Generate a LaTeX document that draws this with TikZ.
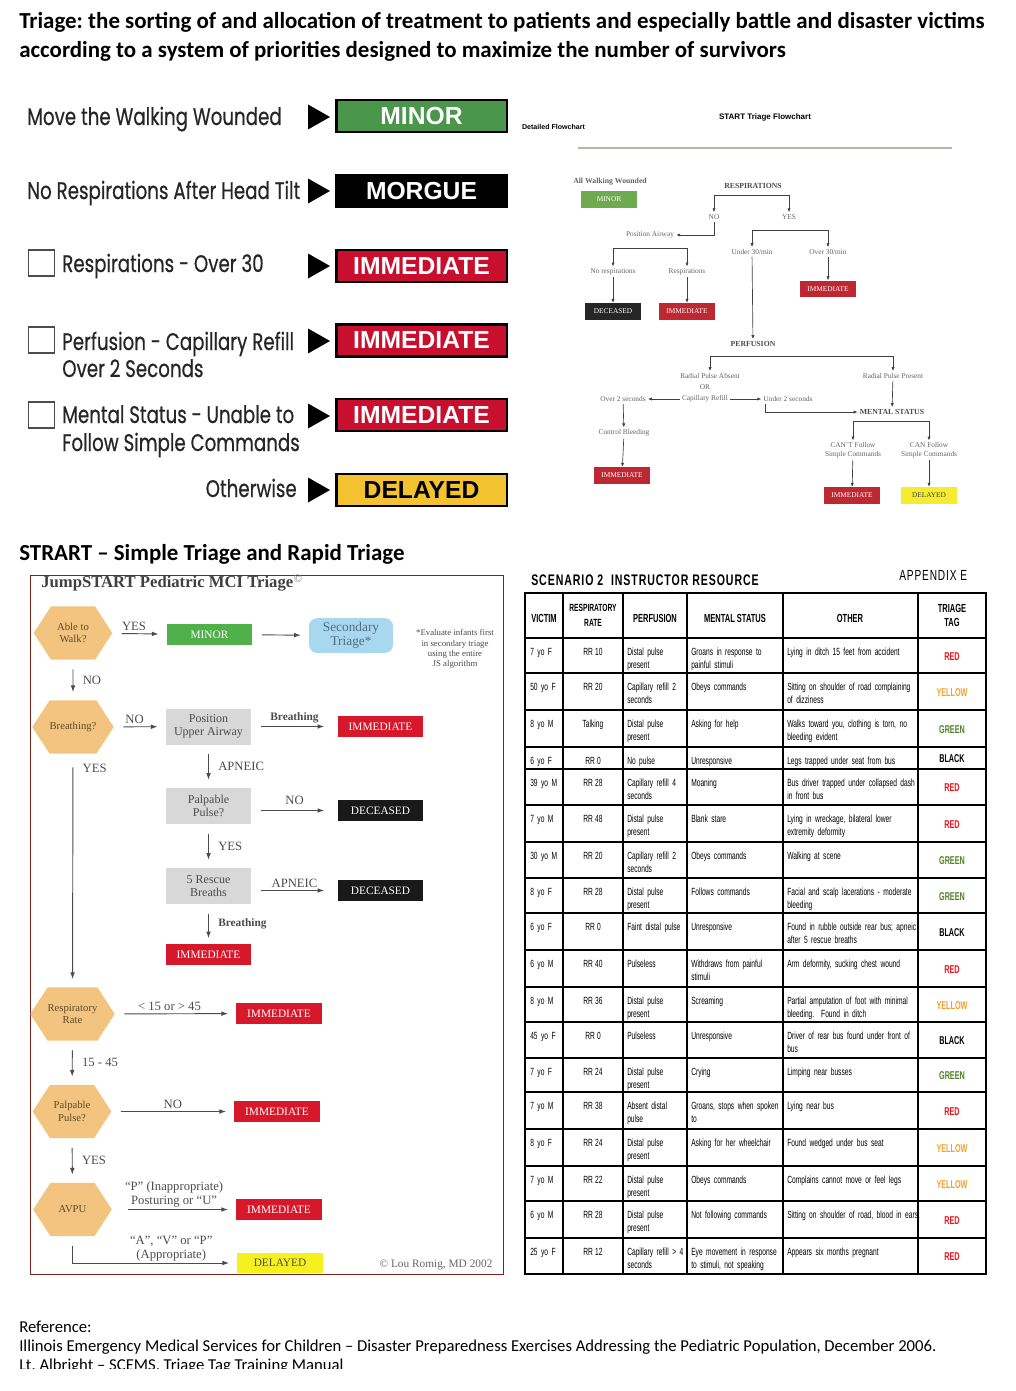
\documentclass[tikz,border=0pt]{standalone}
\usepackage{fontspec}
\setmainfont{Liberation Serif}
\newfontfamily\calfont{Carlito}
\newfontfamily\gothfont[FakeStretch=0.76,FakeBold=0.5]{Poppins}
\newfontfamily\tagfont{Liberation Sans}
\newfontfamily\narrowfont[FakeStretch=0.64]{Liberation Sans}
\newfontfamily\scenfont[FakeStretch=0.69,LetterSpace=6]{Liberation Sans}
\newcommand\tightsp{\spaceskip 1.6pt plus 0.5pt\relax}
\usetikzlibrary{shapes.symbols,arrows.meta,positioning}

\definecolor{startgreen}{RGB}{74,150,74}
\definecolor{startred}{RGB}{200,16,46}
\definecolor{startyellow}{RGB}{242,194,48}
\definecolor{fcred}{RGB}{190,40,50}
\definecolor{fcgreen}{RGB}{110,170,80}
\definecolor{fcyellow}{RGB}{245,236,50}
\definecolor{fcgrey}{RGB}{100,100,100}
\definecolor{rulegrey}{RGB}{185,180,170}
\definecolor{hexfill}{RGB}{242,196,128}
\definecolor{hextext}{RGB}{95,75,45}
\definecolor{boxgrey}{RGB}{216,216,216}
\definecolor{secblue}{RGB}{168,216,240}
\definecolor{sectext}{RGB}{80,110,130}
\definecolor{jsred}{RGB}{214,24,42}
\definecolor{jsgreen}{RGB}{80,176,74}
\definecolor{jsyellow}{RGB}{245,240,30}
\definecolor{jsframe}{RGB}{120,35,35}
\definecolor{tRED}{RGB}{232,20,28}
\definecolor{tYELLOW}{RGB}{240,160,40}
\definecolor{tGREEN}{RGB}{80,130,40}
\definecolor{tBLACK}{RGB}{0,0,0}

\tikzset{
  heading/.style={font=\calfont\bfseries\fontsize{17.2}{20}\selectfont, inner sep=0pt, anchor=base west},
  reftext/.style={font=\calfont\fontsize{12.5}{15}\selectfont, inner sep=0pt, anchor=base west},
  gothic/.style={font=\gothfont\fontsize{18}{21}\selectfont, text=black!85, inner sep=0pt, anchor=base west},
  tag/.style={draw=black, line width=2pt, minimum width=128pt, minimum height=24pt, inner sep=0pt,
    font=\tagfont\bfseries\fontsize{18.5}{20}\selectfont, text=white},
  chkbox/.style={draw=black!70, line width=0.9pt, minimum size=19.5pt, inner sep=0pt},
  fctext/.style={font=\fontsize{5.5}{6.5}\selectfont, text=fcgrey, inner sep=1.5pt, align=center},
  fchead/.style={fctext, font=\bfseries\fontsize{5.8}{6.5}\selectfont, text=black!70},
  fcbox/.style={minimum width=42pt, minimum height=12.5pt, inner sep=0pt, font=\fontsize{5.5}{6}\selectfont, text=white},
  farr/.style={-{Latex[length=3pt,width=2.4pt]}, black!75, line width=0.5pt},
  hexnode/.style={signal, signal to=east and west, signal pointer angle=114, fill=hexfill,
    minimum width=59pt, minimum height=40pt, inner sep=0pt, align=center, text=hextext,
    font=\fontsize{8}{9.5}\selectfont},
  jsbox/.style={minimum width=64pt, minimum height=16pt, inner sep=0pt, font=\fontsize{8.5}{9}\selectfont, text=white},
  greybox/.style={fill=boxgrey, minimum width=64pt, minimum height=27pt, inner sep=0pt, align=center,
    text=black!70, font=\fontsize{9}{9.5}\selectfont},
  jsarr/.style={-{Latex[length=5pt,width=3.5pt]}, black!70, line width=0.7pt, shorten <=7pt, shorten >=6pt},
  jslbl/.style={font=\fontsize{9.5}{10.5}\selectfont, text=black!70, inner sep=2pt, align=center},
  sidelbl/.style={jslbl, right, xshift=5pt},
  cell/.style={font=\narrowfont\fontsize{7.8}{9.75}\selectfont\tightsp, inner sep=0pt, anchor=base west, align=left, text width=110pt},
  cellc/.style={font=\narrowfont\fontsize{7.8}{9.75}\selectfont\tightsp, inner sep=0pt, anchor=base},
  headcell/.style={font=\narrowfont\bfseries\fontsize{8.8}{10.5}\selectfont\tightsp, inner sep=0pt, align=center}
}

\begin{document}
\frenchspacing
\begin{tikzpicture}[x=0.75pt,y=-0.75pt]
  \useasboundingbox (0,0) rectangle (1016,1391);
  \fill[white] (0,0) rectangle (1016,1391);

  % headings
  \node[heading] (title1) at (19,29) {Triage: the sorting of and allocation of treatment to patients and especially battle and disaster victims};
  \node[heading] (title2) at (19,58) {according to a system of priorities designed to maximize the number of survivors};

  % START tag panel
  \node[gothic] (walk) at (27,125) {Move the Walking Wounded};
  \node[gothic] (head) at (27,199) {No Respirations After Head Tilt};
  \node[chkbox] (chk1) at (41.5,263) {};
  \node[gothic] (resp30) at (62,272) {Respirations - Over 30};
  \node[chkbox] (chk2) at (41.5,340) {};
  \node[gothic] (perfa) at (62,350) {Perfusion - Capillary Refill};
  \node[gothic] (perfb) at (62,377) {Over 2 Seconds};
  \node[chkbox] (chk3) at (41.5,415) {};
  \node[gothic] (menta) at (62,423) {Mental Status - Unable to};
  \node[gothic] (mentb) at (62,451) {Follow Simple Commands};
  \node[gothic, anchor=base east] (other) at (297,497) {Otherwise};
  \foreach \y in {117,191,266,341,416,490}
    \fill (308,\y-12.5) -- ++(22,12.5) -- ++(-22,12.5) -- cycle;
  \node[tag, fill=startgreen] (tminor) at (421.5,116) {MINOR};
  \node[tag, fill=black] (tmorgue) at (421.5,191) {MORGUE};
  \node[tag, fill=startred] (timm1) at (421.5,266) {IMMEDIATE};
  \node[tag, fill=startred] (timm2) at (421.5,340.5) {IMMEDIATE};
  \node[tag, fill=startred] (timm3) at (421.5,415) {IMMEDIATE};
  \node[tag, fill=startyellow, text=black] (tdelayed) at (421.5,490) {DELAYED};

  % START triage flowchart
  \node[font=\tagfont\bfseries\fontsize{6}{7}\selectfont] (fctitle) at (765,117) {START Triage Flowchart};
  \node[font=\tagfont\bfseries\fontsize{5.3}{6}\selectfont] (fcdet) at (553.5,127) {Detailed Flowchart};
  \draw[rulegrey, line width=1.5pt] (578,148) -- (952,148);
  \node[fchead, text=fcgrey] (allw) at (610,182) {All Walking Wounded};
  \node[fcbox, fill=fcgreen] (fminor) at (609,199.5) {MINOR};
  \node[fchead] (resp) at (753,186) {RESPIRATIONS};
  \node[fctext] (rno) at (714,217) {NO};
  \node[fctext] (ryes) at (789,217) {YES};
  \coordinate (rb) at (752,195);
  \draw[farr] (rb) -| (rno);
  \draw[farr] (rb) -| (ryes);
  \node[fctext] (posair) at (650,235) {Position Airway};
  \draw[farr] (rno) |- (posair);
  \node[fctext] (norsp) at (613,272) {No respirations};
  \node[fctext] (rsp) at (687,272) {Respirations};
  \coordinate (pb) at (650,248);
  \draw[farr] (pb) -| (norsp);
  \draw[farr] (pb) -| (rsp);
  \node[fcbox, fill=black!85] (fdec) at (613,311.5) {DECEASED};
  \node[fcbox, fill=fcred] (fimm1) at (687,311.5) {IMMEDIATE};
  \draw[farr] (norsp) -- (fdec);
  \draw[farr] (rsp) -- (fimm1);
  \node[fctext] (u30) at (752,252) {Under 30/min};
  \node[fctext] (o30) at (828,252) {Over 30/min};
  \coordinate (yb) at (790,230);
  \draw[farr] (yb) -| (u30);
  \draw[farr] (yb) -| (o30);
  \node[fcbox, fill=fcred] (fimm2) at (828,289) {IMMEDIATE};
  \draw[farr] (o30) -- (fimm2);
  \node[fchead] (perf) at (753,344) {PERFUSION};
  \draw[farr] (u30) -- (perf);
  \node[fctext] (rpa) at (710,376) {Radial Pulse Absent};
  \node[fctext] (orr) at (705,387) {OR};
  \node[fctext] (cap) at (705,399) {Capillary Refill};
  \node[fctext] (rpp) at (893,376) {Radial Pulse Present};
  \coordinate (pfb) at (803,356);
  \draw[farr] (pfb) -| (rpa);
  \draw[farr] (pfb) -| (rpp);
  \node[fctext] (o2) at (623,399) {Over 2 seconds};
  \node[fctext] (u2) at (788,399) {Under 2 seconds};
  \draw[farr] (cap) -- (o2);
  \draw[farr] (cap) -- (u2);
  \node[fchead] (ment) at (892,412) {MENTAL STATUS};
  \draw[farr] (rpp) -- (ment);
  \draw[farr] (u2.south west) ++(4,0) |- (ment);
  \node[fctext] (cb) at (624,433) {Control Bleeding};
  \draw[farr] (o2) -- (cb);
  \node[fcbox, fill=fcred] (fimm3) at (622,475.5) {IMMEDIATE};
  \draw[farr] (cb) -- (fimm3);
  \node[fctext] (cant) at (853,450.5) {CAN'T Follow\\Simple Commands};
  \node[fctext] (can) at (929,450.5) {CAN Follow\\Simple Commands};
  \coordinate (mb) at (891,421);
  \draw[farr] (mb) -| (cant);
  \draw[farr] (mb) -| (can);
  \node[fcbox, fill=fcred] (fimm4) at (852,495.5) {IMMEDIATE};
  \node[fcbox, fill=fcyellow, text=black!75] (fdel) at (929,495.5) {DELAYED};
  \draw[farr] (cant) -- (fimm4);
  \draw[farr] (can) -- (fdel);

  % JumpSTART
  \node[heading] (strart) at (19,560) {STRART – Simple Triage and Rapid Triage};
  \draw[jsframe, line width=1pt] (30.5,575.5) rectangle (503.5,1274.5);
  \node[font=\bfseries\fontsize{12.5}{14}\selectfont, text=black!75, anchor=west, inner sep=0pt] (jstitle) at (41,583)
    {JumpSTART Pediatric MCI Triage\textsuperscript{\color{black!40}\textcopyright}};
  \node[hexnode] (walkq) at (73,633) {Able to\\Walk?};
  \node[jsbox, fill=jsgreen] (minor) at (209.5,634.5) {MINOR};
  \node[fill=secblue, rounded corners=6pt, minimum width=63pt, minimum height=26pt, inner sep=0pt,
    align=center, text=sectext, font=\fontsize{10}{10.5}\selectfont] (sec) at (351,635.5) {Secondary\\Triage*};
  \node[font=\fontsize{6.6}{7.6}\selectfont, text=black!70, align=center] (note) at (455,649)
    {*Evaluate infants first\\in secondary triage\\using the entire\\JS algorithm};
  \draw[jsarr] (walkq) -- node[jslbl, above, pos=0.4] {YES} (minor);
  \draw[jsarr] (minor) -- (sec);
  \node[hexnode] (breathq) at (73,727) {Breathing?};
  \draw[jsarr] (walkq) -- node[sidelbl] {NO} (breathq);
  \node[greybox] (posup) at (208.5,726.5) {Position\\Upper Airway};
  \draw[jsarr] (breathq) -- node[jslbl, above, pos=0.4] {NO} (posup);
  \node[jsbox, fill=jsred] (imm1) at (380.5,726.5) {IMMEDIATE};
  \draw[jsarr, shorten >=10pt] (posup) -- node[jslbl, above, font=\bfseries\fontsize{8.5}{9}\selectfont] {Breathing} (imm1);
  \node[greybox] (palp1) at (208.5,806) {Palpable\\Pulse?};
  \draw[jsarr] (posup) -- node[sidelbl] {APNEIC} (palp1);
  \node[jsbox, fill=black!90] (dec1) at (380.5,810.5) {DECEASED};
  \draw[jsarr, shorten >=10pt] (palp1.east |- dec1) -- node[jslbl, above, yshift=2pt] {NO} (dec1);
  \node[greybox] (resc) at (208.5,886) {5 Rescue\\Breaths};
  \draw[jsarr] (palp1) -- node[sidelbl] {YES} (resc);
  \node[jsbox, fill=black!90] (dec2) at (380.5,890.5) {DECEASED};
  \draw[jsarr, shorten >=10pt] (resc.east |- dec2) -- node[jslbl, above] {APNEIC} (dec2);
  \node[jsbox, fill=jsred] (imm2) at (208.5,954.5) {IMMEDIATE};
  \draw[jsarr, shorten >=4pt] (resc) -- node[sidelbl, font=\bfseries\fontsize{8.5}{9}\selectfont] {Breathing} (imm2);
  \node[hexnode] (rrq) at (72.5,1014) {Respiratory\\Rate};
  \draw[jsarr, shorten <=10pt] (breathq) -- node[sidelbl, pos=0.06] {YES} (rrq);
  \node[jsbox, fill=jsred] (imm3) at (279,1013.5) {IMMEDIATE};
  \draw[jsarr] (rrq) -- node[jslbl, above, pos=0.45] {< 15 or > 45} (imm3);
  \node[hexnode] (palp2) at (72,1111.5) {Palpable\\Pulse?};
  \draw[jsarr] (rrq) -- node[sidelbl] {15 - 45} (palp2);
  \node[jsbox, fill=jsred] (imm4) at (277,1111.5) {IMMEDIATE};
  \draw[jsarr] (palp2) -- node[jslbl, above, pos=0.5] {NO} (imm4);
  \node[hexnode] (avpu) at (72.5,1209.5) {AVPU};
  \draw[jsarr] (palp2) -- node[sidelbl] {YES} (avpu);
  \node[jsbox, fill=jsred] (imm5) at (279,1209.5) {IMMEDIATE};
  \draw[jsarr, shorten <=12pt] (avpu) -- node[jslbl, above, pos=0.5, yshift=-1pt] {“P” (Inappropriate)\\Posturing or “U”} (imm5);
  \node[jsbox, fill=jsyellow, minimum height=15pt, text=black!70] (del1) at (280,1263) {DELAYED};
  \draw[jsarr] (avpu) |- node[jslbl, above, pos=0.8, yshift=-1pt] {“A”, “V” or “P”\\(Appropriate)} (del1);
  \node[font=\fontsize{8.5}{9}\selectfont, text=black!60] (romig) at (436,1265) {\textcopyright{} Lou Romig, MD 2002};

  % scenario table
  \node[font=\scenfont\bfseries\fontsize{11.5}{13}\selectfont, anchor=base west, inner sep=0pt] (scen) at (531,585)
    {SCENARIO 2 \ INSTRUCTOR RESOURCE};
  \node[font=\scenfont\fontsize{11}{13}\selectfont, anchor=base west, inner sep=0pt] (appx) at (899,580) {APPENDIX E};
  \foreach \y in {638,673,710,747,769,805,842,878,913,950,987,1022,1058,1092,1129,1166,1201,1238}
    \draw[line width=1pt] (525,\y) -- (986,\y);
  \foreach \x in {563,623,687,783,918}
    \draw[line width=1pt] (\x,593) -- (\x,1274);
  \draw[line width=1.4pt] (525,593) rectangle (986,1274);
  \node[headcell] (hvic) at (544,618) {VICTIM};
  \node[headcell, font=\narrowfont\bfseries\fontsize{7.8}{11}\selectfont] (hrr) at (593,615.5) {RESPIRATORY\\RATE};
  \node[headcell] (hper) at (655,618) {PERFUSION};
  \node[headcell] (hmen) at (735,618) {MENTAL STATUS};
  \node[headcell] (hoth) at (850,618) {OTHER};
  \node[headcell] (htag) at (952,615.5) {TRIAGE\\TAG};
  \foreach \rtop/\rbot/\vic/\rrate/\per/\men/\oth/\tg in {
    638/673/7 yo F/RR 10/{Distal pulse\\present}/{Groans in response to\\painful stimuli}/Lying in ditch 15 feet from accident/RED,
    673/710/50 yo F/RR 20/{Capillary refill 2\\seconds}/Obeys commands/{Sitting on shoulder of road complaining\\of dizziness}/YELLOW,
    710/747/8 yo M/Talking/{Distal pulse\\present}/Asking for help/{Walks toward you, clothing is torn, no\\bleeding evident}/GREEN,
    747/769/6 yo F/RR 0/No pulse/Unresponsive/Legs trapped under seat from bus/BLACK,
    769/805/39 yo M/RR 28/{Capillary refill 4\\seconds}/Moaning/{Bus driver trapped under collapsed dash\\in front bus}/RED,
    805/842/7 yo M/RR 48/{Distal pulse\\present}/Blank stare/{Lying in wreckage, bilateral lower\\extremity deformity}/RED,
    842/878/30 yo M/RR 20/{Capillary refill 2\\seconds}/Obeys commands/Walking at scene/GREEN,
    878/913/8 yo F/RR 28/{Distal pulse\\present}/Follows commands/{Facial and scalp lacerations - moderate\\bleeding}/GREEN,
    913/950/6 yo F/RR 0/Faint distal pulse/Unresponsive/{Found in rubble outside rear bus; apneic\\after 5 rescue breaths}/BLACK,
    950/987/6 yo M/RR 40/Pulseless/{Withdraws from painful\\stimuli}/{Arm deformity, sucking chest wound}/RED,
    987/1022/8 yo M/RR 36/{Distal pulse\\present}/Screaming/{Partial amputation of foot with minimal\\bleeding.\ \ Found in ditch}/YELLOW,
    1022/1058/45 yo F/RR 0/Pulseless/Unresponsive/{Driver of rear bus found under front of\\bus}/BLACK,
    1058/1092/7 yo F/RR 24/{Distal pulse\\present}/Crying/Limping near busses/GREEN,
    1092/1129/7 yo M/RR 38/{Absent distal\\pulse}/{Groans, stops when spoken\\to}/Lying near bus/RED,
    1129/1166/8 yo F/RR 24/{Distal pulse\\present}/Asking for her wheelchair/Found wedged under bus seat/YELLOW,
    1166/1201/7 yo M/RR 22/{Distal pulse\\present}/Obeys commands/Complains cannot move or feel legs/YELLOW,
    1201/1238/6 yo M/RR 28/{Distal pulse\\present}/Not following commands/{Sitting on shoulder of road, blood in ears.}/RED,
    1238/1274/25 yo F/RR 12/{Capillary refill > 4\\seconds}/{Eye movement in response\\to stimuli, not speaking}/Appears six months pregnant/RED}
  {
    \node[cell] (vic\rtop) at (530,\rtop+17) {\vic};
    \node[cellc] (rr\rtop) at (593,\rtop+17) {\rrate};
    \node[cell] (per\rtop) at (627,\rtop+17) {\per};
    \node[cell] (men\rtop) at (691,\rtop+17) {\men};
    \node[cell] (oth\rtop) at (787,\rtop+17) {\oth};
    \node[font=\narrowfont\bfseries\fontsize{8.5}{9}\selectfont, text=t\tg] (tag\rtop) at (952,{(\rtop+\rbot)/2+1}) {\tg};
  }

  % reference
  \node[reftext] (ref1) at (19,1332) {Reference:};
  \node[reftext] (ref2) at (19,1351) {Illinois Emergency Medical Services for Children – Disaster Preparedness Exercises Addressing the Pediatric Population, December 2006.};
  \begin{scope}
    \clip (0,1300) rectangle (1016,1368);
    \node[reftext] (ref3) at (19,1370) {Lt. Albright – SCEMS, Triage Tag Training Manual};
  \end{scope}
\end{tikzpicture}
\end{document}
